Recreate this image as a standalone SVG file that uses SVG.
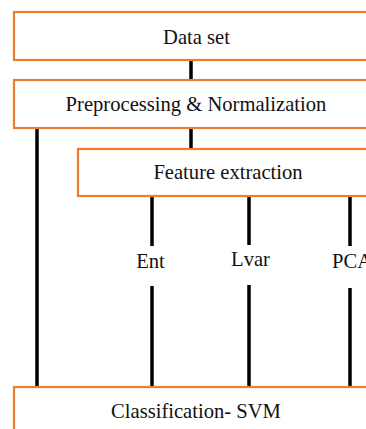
<svg xmlns="http://www.w3.org/2000/svg" width="366" height="429" viewBox="0 0 366 429">
  <style>
    .box { fill: #ffffff; stroke: #ED7D31; stroke-width: 2.2; }
    .lbl { font-family: 'Liberation Serif', 'Times New Roman', Times, serif; font-size: 20.6px; fill: #111111; text-anchor: middle; }
    .wire { stroke: #000000; stroke-width: 3.5; fill: none; }
  </style>
  <rect width="366" height="429" fill="#ffffff"/>

  <!-- connectors -->
  <g id="connectors">
    <line class="wire" x1="191" y1="60" x2="191" y2="80"/>
    <line class="wire" x1="191" y1="128" x2="191" y2="149"/>
    <line class="wire" x1="37" y1="128" x2="37" y2="387"/>
    <line class="wire" x1="152" y1="196" x2="152" y2="246"/>
    <line class="wire" x1="249" y1="196" x2="249" y2="245"/>
    <line class="wire" x1="350" y1="196" x2="350" y2="246"/>
    <line class="wire" x1="152" y1="286" x2="152" y2="387"/>
    <line class="wire" x1="249" y1="285" x2="249" y2="387"/>
    <line class="wire" x1="350" y1="288" x2="350" y2="387"/>
  </g>

  <g id="dataset">
    <rect class="box" x="14" y="12" width="370" height="48"/>
    <text class="lbl" x="196.5" y="43.5">Data set</text>
  </g>

  <g id="preprocessing">
    <rect class="box" x="14" y="80" width="370" height="48"/>
    <text class="lbl" x="196" y="111">Preprocessing &amp; Normalization</text>
  </g>

  <g id="feature-extraction">
    <rect class="box" x="78" y="149" width="310" height="47"/>
    <text class="lbl" x="228" y="179">Feature extraction</text>
  </g>

  <g id="feature-labels">
    <text class="lbl" x="150.5" y="268">Ent</text>
    <text class="lbl" x="250.5" y="266">Lvar</text>
    <text class="lbl" x="332" y="268" style="text-anchor:start">PCA</text>
  </g>

  <g id="classification">
    <rect class="box" x="14" y="387" width="370" height="60"/>
    <text class="lbl" x="196" y="418">Classification- SVM</text>
  </g>
</svg>
